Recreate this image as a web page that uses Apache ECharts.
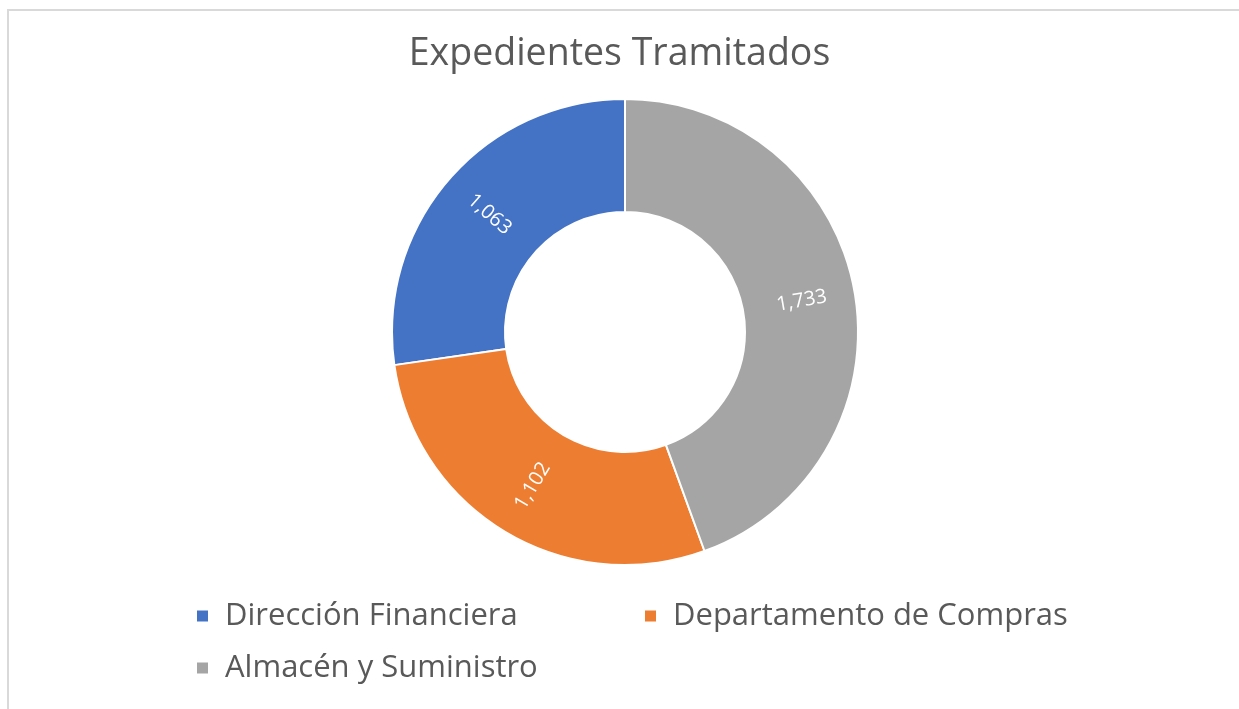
<!DOCTYPE html>
<html>
<head>
<meta charset="utf-8">
<script src="https://cdn.jsdelivr.net/npm/echarts@6/dist/echarts.min.js"></script>
<style>
html,body{margin:0;padding:0;background:#fff;}
#c{width:1239px;height:709px;}
</style>
</head>
<body>
<div id="c"></div>
<script>
const titleText = 'Expedientes Tramitados';
const categories = ['Dirección Financiera', 'Departamento de Compras', 'Almacén y Suministro'];
const values = [1063, 1102, 1733];
const colors = ['#4472C4', '#ED7D31', '#A5A5A5'];

const FONT = '"Open Sans", sans-serif';
const chart = echarts.init(document.getElementById('c'));

const legendBase = {
  orient: 'horizontal',
  icon: 'rect',
  itemWidth: 13,
  itemHeight: 13,
  padding: 0,
  textStyle: { fontFamily: FONT, fontSize: 31, color: '#595959', lineHeight: 34, padding: [0, 0, 0, 11] }
};

chart.setOption({
  animation: false,
  backgroundColor: '#fff',
  color: colors,
  title: {
    text: titleText,
    left: 'center',
    top: 30,
    textStyle: { fontFamily: FONT, fontSize: 37.5, fontWeight: 'normal', color: '#595959' }
  },
  graphic: [{
    type: 'rect',
    shape: { x: 8, y: 10, width: 1400, height: 900 },
    style: { fill: 'none', stroke: '#d9d9d9', lineWidth: 2 },
    silent: true
  }],
  legend: [
    Object.assign({}, legendBase, { left: 195, top: 599, data: [categories[0]] }),
    Object.assign({}, legendBase, { left: 643, top: 599, data: [categories[1]] }),
    Object.assign({}, legendBase, { left: 195, top: 651, data: [categories[2]] })
  ],
  series: [{
    type: 'pie',
    center: [625, 332],
    radius: [120, 233],
    startAngle: 90,
    clockwise: false,
    avoidLabelOverlap: false,
    itemStyle: { borderColor: '#fff', borderWidth: 2 },
    label: {
      show: true,
      position: 'inside',
      rotate: 'radial',
      color: '#fff',
      fontFamily: FONT,
      fontSize: 20,
      formatter: p => p.value.toLocaleString('en-US')
    },
    labelLine: { show: false },
    emphasis: { disabled: true },
    data: categories.map((n, i) => ({ name: n, value: values[i] }))
  }]
});
</script>
</body>
</html>
